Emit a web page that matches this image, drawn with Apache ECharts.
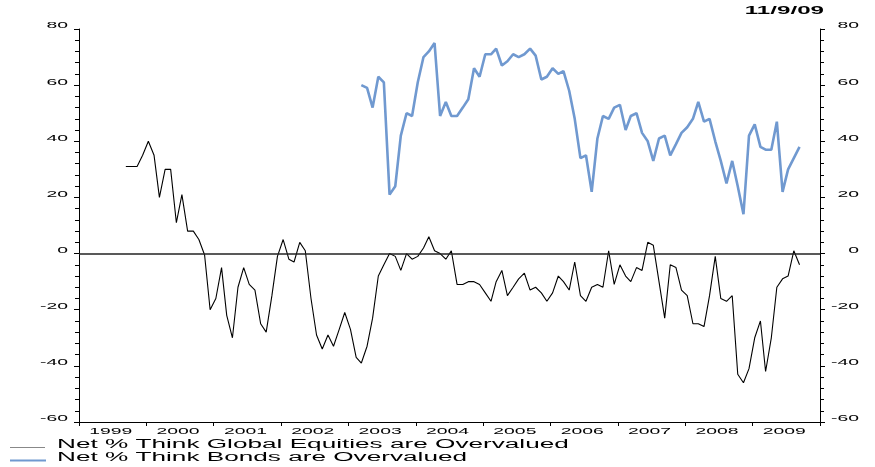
<!DOCTYPE html>
<html>
<head>
<meta charset="utf-8">
<script src="https://cdn.jsdelivr.net/npm/echarts@6/dist/echarts.min.js"></script>
<style>
  html, body { margin: 0; padding: 0; background: #fff; }
  #chart { width: 875px; height: 467px; }
</style>
</head>
<body>
<div id="chart"></div>
<script>
// year labels on the bottom axis
const years = ['1999', '2000', '2001', '2002', '2003', '2004', '2005', '2006', '2007', '2008', '2009']
const yTicks = [-60, -40, -20, 0, 20, 40, 60, 80]
const seriesNames = ['Net % Think Global Equities are Overvalued', 'Net % Think Bonds are Overvalued']
const dateText = '11/9/09'

// monthly survey readings, equities start Sep 1999, bonds start Mar 2003
const equitiesStart = [1999, 8]
const equities = [
  31, 31, 31, 35, 40, 35, 20, 30, 30, 11, 21, 8, 8, 5, -0.5,
  -20, -16, -5, -22, -30, -12, -5, -11, -13, -25, -28, -15, -1, 5, -2,
  -3, 4, 1, -16, -29, -34, -29, -33, -27, -21, -27, -37, -39, -33, -23,
  -8, -4, 0, -1, -6, 0, -2, -1, 2, 6, 1, 0, -2, 1, -11,
  -11, -10, -10, -11, -14, -17, -10, -6, -15, -12, -9, -7, -13, -12, -14,
  -17, -14, -8, -10, -13, -3, -15, -17, -12, -11, -12, 1, -11, -4, -8,
  -10, -5, -6, 4, 3, -10, -23, -4, -5, -13, -15, -25, -25, -26, -15,
  -1, -16, -17, -15, -43, -46, -41, -30, -24, -42, -30, -12, -9, -8, 1,
  -4
]
const bondsStart = [2003, 2]
const bonds = [
  60, 59, 52, 63, 61, 21, 24, 42, 50, 49, 61, 70, 72, 75, 49,
  54, 49, 49, 52, 55, 66, 63, 71, 71, 73, 67, 68.5, 71, 70, 71,
  73, 70.5, 62, 63, 66, 64, 65, 58, 48, 34, 35, 22, 41, 49, 48,
  52, 53, 44, 49, 50, 43, 40, 33, 41, 42, 35, 39, 43, 45, 48,
  54, 47, 48, 40, 33, 25, 33, 24, 14, 42, 46, 38, 37, 37, 47,
  22, 30, 34, 38
]

function toSeries(start, values) {
  return values.map((v, i) => [Date.UTC(start[0], start[1] + i, 12), v])
}

// the source picture is squashed vertically, so all text is drawn wide
const stretch = 2.15
const fam = '"Liberation Sans", Arial, sans-serif'
const blue = '#7099d0'

function wideText(text, x, y, align, vAlign, font, sx) {
  return {
    type: 'text',
    x: x,
    y: y,
    scaleX: sx || stretch,
    silent: true,
    style: {
      text: text,
      font: font,
      fill: '#000',
      align: align,
      verticalAlign: vAlign,
      textAlign: align,
      textVerticalAlign: vAlign
    }
  }
}

const yAxisCommon = {
  type: 'value',
  min: -60,
  max: 80,
  interval: 20,
  axisLine: { show: true, lineStyle: { color: '#000', width: 1 } },
  axisTick: { show: true, inside: false, length: 5, lineStyle: { color: '#000' } },
  minorTick: { show: true, splitNumber: 5, length: 4, lineStyle: { color: '#000' } },
  splitLine: { show: false },
  axisLabel: { show: false }
}

const chart = echarts.init(document.getElementById('chart'))
const option = {
  animation: false,
  backgroundColor: '#fff',
  grid: { left: 79, right: 55, top: 29, bottom: 45 },
  xAxis: [
    {
      type: 'category',
      data: years,
      boundaryGap: true,
      axisLine: { onZero: false, lineStyle: { color: '#000', width: 1 } },
      axisTick: { show: true, alignWithLabel: false, length: 4, lineStyle: { color: '#000' } },
      axisLabel: { show: false },
      splitLine: { show: false }
    },
    {
      type: 'time',
      min: Date.UTC(1999, 0, 1),
      max: Date.UTC(2010, 0, 1),
      show: false
    }
  ],
  yAxis: [
    Object.assign({ position: 'left' }, yAxisCommon),
    Object.assign({ position: 'right' }, yAxisCommon)
  ],
  series: [
    {
      name: seriesNames[0],
      type: 'line',
      xAxisIndex: 1,
      yAxisIndex: 0,
      data: toSeries(equitiesStart, equities),
      showSymbol: false,
      lineStyle: { color: '#000', width: 1.1 },
      markLine: {
        silent: true,
        symbol: 'none',
        label: { show: false },
        lineStyle: { color: '#222', width: 1.5, type: 'solid' },
        data: [{ yAxis: 0 }]
      }
    },
    {
      name: seriesNames[1],
      type: 'line',
      xAxisIndex: 1,
      yAxisIndex: 0,
      data: toSeries(bondsStart, bonds),
      showSymbol: false,
      lineStyle: { color: blue, width: 2.6 }
    }
  ]
}
chart.setOption(option)

// tick labels, placed through the axes' own scales
const tickFont = '9px ' + fam
const gfx = []
const leftX = chart.convertToPixel({ xAxisIndex: 1 }, Date.UTC(1999, 0, 1))
const rightX = chart.convertToPixel({ xAxisIndex: 1 }, Date.UTC(2010, 0, 1))
const bottomY = chart.convertToPixel({ yAxisIndex: 0 }, -60)
yTicks.forEach(v => {
  const py = chart.convertToPixel({ yAxisIndex: 0 }, v) - 3
  gfx.push(wideText(String(v), leftX - 11, py, 'right', 'middle', tickFont))
  gfx.push(wideText(String(v), rightX + 39, py, 'right', 'middle', tickFont))
})
years.forEach(y => {
  const px = chart.convertToPixel({ xAxisIndex: 0 }, y)
  gfx.push(wideText(y, px - 2, bottomY + 9.5, 'center', 'middle', tickFont))
})

// date stamp
gfx.push(wideText(dateText, 824, 6, 'right', 'top', 'bold 10.5px ' + fam, 2.3))

// legend
const legendFont = '12px ' + fam
gfx.push({ type: 'line', silent: true, shape: { x1: 10, y1: 447.5, x2: 45, y2: 447.5 }, style: { stroke: '#888', lineWidth: 1 } })
gfx.push(wideText(seriesNames[0], 57, 450.5, 'left', 'bottom', legendFont, 2.18))
gfx.push({ type: 'line', silent: true, shape: { x1: 10, y1: 460.5, x2: 46, y2: 460.5 }, style: { stroke: blue, lineWidth: 2 } })
gfx.push(wideText(seriesNames[1], 57, 463.5, 'left', 'bottom', legendFont, 2.18))

chart.setOption({ graphic: gfx })
</script>
</body>
</html>
